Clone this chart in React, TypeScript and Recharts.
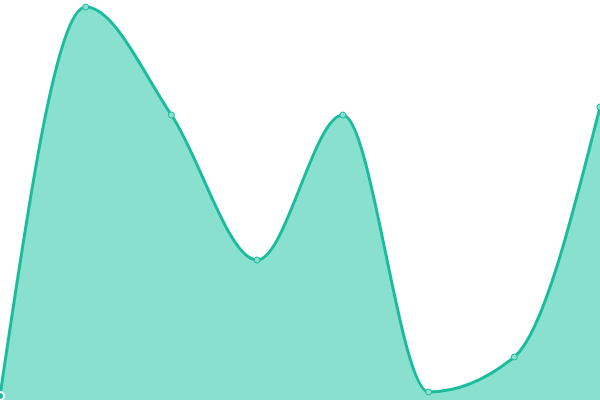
import React from "react";
import { AreaChart, Area, XAxis, YAxis } from "recharts";

const categories = ["A", "B", "C", "D", "E", "F", "G", "H"];
const values = [4, 393, 285, 140, 285, 8, 43, 293];

const data = categories.map((name, i) => ({ name, value: values[i] }));

export default function App() {
  return (
    <div style={{ position: "absolute", left: 0, top: 0, width: 600, height: 400 }}>
      <AreaChart width={600} height={400} data={data} margin={{ top: 0, right: 0, bottom: 0, left: 0 }}>
        <XAxis dataKey="name" hide />
        <YAxis hide domain={[0, 400]} />
        <Area
          type="monotone"
          dataKey="value"
          stroke="#1abc9c"
          strokeWidth={3}
          fill="#8ae0cf"
          fillOpacity={1}
          dot={{ r: 3, fill: "#8ae0cf", stroke: "#1abc9c", strokeWidth: 1, fillOpacity: 1 }}
          isAnimationActive={false}
        />
      </AreaChart>
    </div>
  );
}
